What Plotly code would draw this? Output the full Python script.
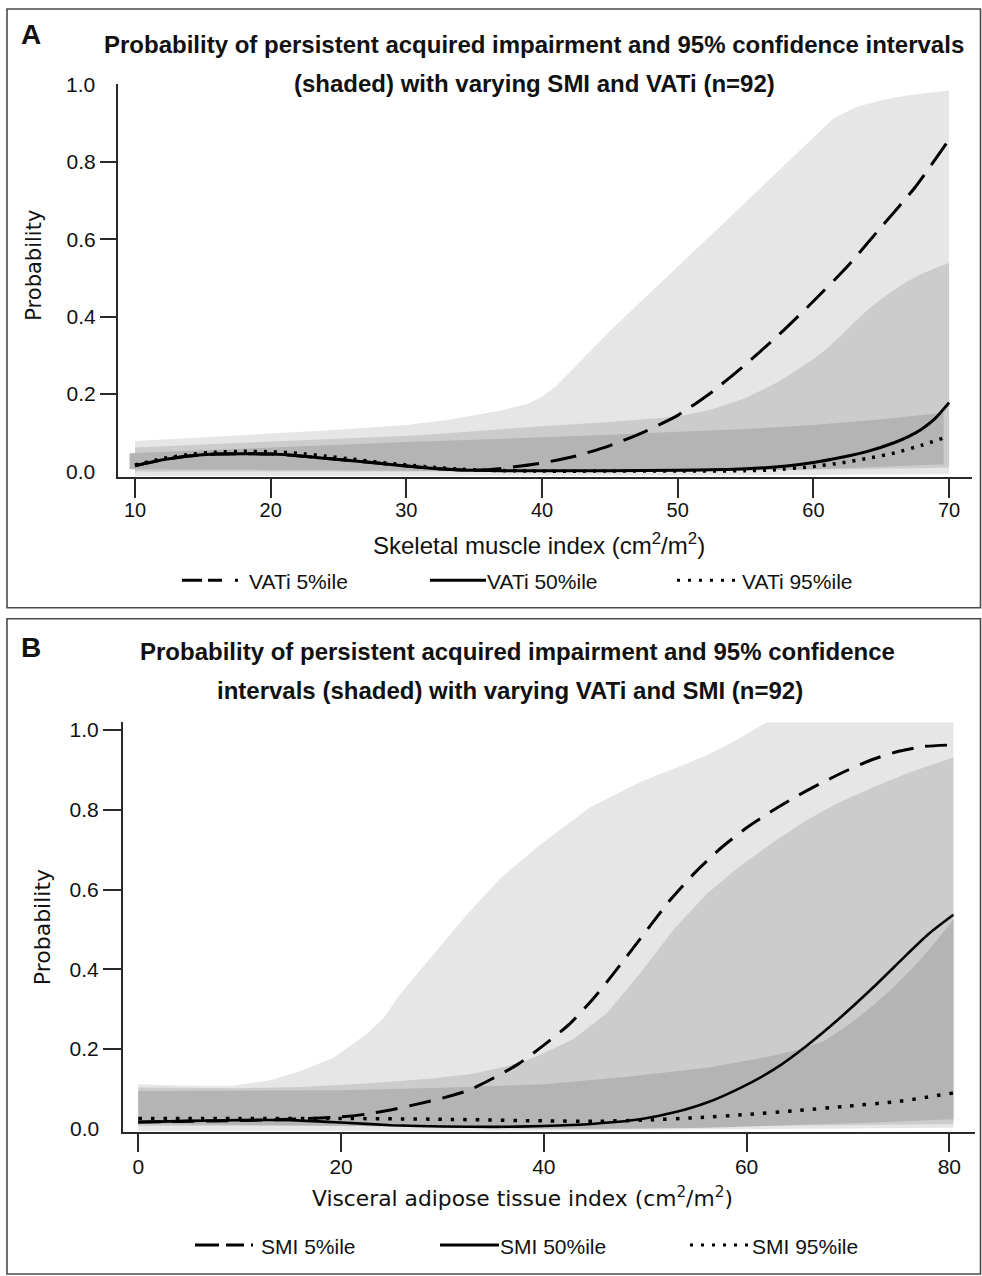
import plotly.graph_objects as go

# ---------------- Panel A data: varying SMI (x) for three VATi percentiles ----------------
A_TICKS = [10, 20, 30, 40, 50, 60, 70]

# VATi 5%ile (dashed)
A_X_VATI5 = [10, 12, 14, 16, 18, 20, 22, 24, 26, 28, 30, 32, 34, 35, 37, 40, 42.5, 45, 47.5, 50,
             52.5, 55, 57.5, 60, 62.5, 65, 67.5, 70]
A_P_VATI5 = [0.015, 0.03, 0.04, 0.045, 0.046, 0.045, 0.041, 0.034, 0.028, 0.021, 0.014, 0.008, 0.004,
             0.003, 0.008, 0.022, 0.04, 0.067, 0.102, 0.145, 0.205, 0.277, 0.355, 0.44, 0.53, 0.632,
             0.735, 0.858]
# VATi 50%ile (solid)
A_X_VATI50 = [10, 12, 14, 16, 18, 20, 22, 24, 26, 28, 30, 32, 34, 35, 37, 40, 45, 50, 55, 58, 60,
              62, 64, 66, 67, 68, 69, 70]
A_P_VATI50 = [0.015, 0.03, 0.04, 0.045, 0.046, 0.045, 0.041, 0.034, 0.028, 0.021, 0.014, 0.008, 0.004,
              0.003, 0.002, 0.002, 0.002, 0.003, 0.007, 0.014, 0.023, 0.036, 0.052, 0.075, 0.09, 0.11,
              0.138, 0.178]
# VATi 95%ile (dotted)
A_X_VATI95 = [10, 12, 14, 16, 18, 20, 22, 24, 26, 28, 30, 32, 34, 36, 40, 45, 50, 55, 57, 60, 62,
              64, 66, 68, 69.6]
A_P_VATI95 = [0.017, 0.033, 0.044, 0.05, 0.052, 0.051, 0.047, 0.04, 0.032, 0.024, 0.017, 0.011, 0.006,
              0.003, 0.001, 0.001, 0.001, 0.002, 0.004, 0.013, 0.022, 0.034, 0.048, 0.068, 0.087]

# 95% CI bands (panel A)
A_CI_X_VATI5 = [10, 15, 20, 25, 30, 33, 35, 37, 39, 40, 41, 42, 45, 50, 55, 60, 61.5, 63.2, 65,
                66.9, 70]
A_CI_HI_VATI5 = [0.079, 0.088, 0.098, 0.108, 0.12, 0.133, 0.145, 0.158, 0.176, 0.193, 0.22, 0.255,
                 0.363, 0.53, 0.697, 0.864, 0.913, 0.943, 0.96, 0.972, 0.985]
A_CI_LO_VATI5 = [-0.012, -0.012, -0.012, -0.012, -0.012, -0.012, -0.012, -0.012, -0.012, -0.012,
                 -0.012, -0.012, -0.011, -0.011, -0.01, -0.009, -0.009, -0.008, -0.008, -0.007, -0.007]

A_CI_X_VATI50 = [10, 15, 21, 26, 31, 35, 39.6, 45, 50, 52.5, 55, 57.5, 60, 61, 62, 63, 64, 65, 66,
                 67, 68, 69, 70]
A_CI_HI_VATI50 = [0.062, 0.07, 0.079, 0.087, 0.094, 0.104, 0.116, 0.128, 0.142, 0.16, 0.19, 0.233,
                  0.29, 0.318, 0.35, 0.385, 0.418, 0.446, 0.471, 0.493, 0.511, 0.526, 0.539]
A_CI_LO_VATI50 = [0.0, 0.0, 0.0, 0.0, 0.0, 0.0, 0.0, 0.0, 0.001, 0.002, 0.003, 0.004, 0.005, 0.005,
                  0.006, 0.006, 0.007, 0.007, 0.008, 0.008, 0.009, 0.009, 0.01]

A_CI_X_VATI95 = [9.6, 15, 20, 25, 30, 35, 40, 45, 50, 55, 60, 65, 69.6]
A_CI_HI_VATI95 = [0.047, 0.055, 0.062, 0.069, 0.076, 0.082, 0.088, 0.095, 0.103, 0.11, 0.12, 0.135,
                  0.152]
A_CI_LO_VATI95 = [0.006, 0.005, 0.004, 0.003, 0.002, 0.001, 0.0, 0.0, 0.0, 0.002, 0.006, 0.012, 0.019]

# ---------------- Panel B data: varying VATi (x) for three SMI percentiles ----------------
B_TICKS = [0, 20, 40, 60, 80]

B_X_SMI5 = [0, 5, 10, 15, 20, 22.5, 25, 27.5, 30, 32.5, 35, 37.5, 40, 42.5, 45, 47.5, 50, 52.5, 55,
            57.5, 60, 62.5, 65, 67.5, 70, 72.5, 75, 77.5, 80.4]
B_P_SMI5 = [0.017, 0.019, 0.021, 0.024, 0.03, 0.037, 0.048, 0.062, 0.077, 0.096, 0.127, 0.163, 0.21,
            0.262, 0.33, 0.41, 0.493, 0.575, 0.645, 0.705, 0.755, 0.797, 0.835, 0.869, 0.9, 0.927,
            0.947, 0.959, 0.963]

B_X_SMI50 = [0, 5, 10, 15, 20, 25, 30, 35, 40, 45, 49.5, 53, 56.1, 59.4, 62.7, 65.9, 69.2, 72.5,
             75.8, 78, 80.4]
B_P_SMI50 = [0.017, 0.02, 0.022, 0.022, 0.016, 0.009, 0.006, 0.005, 0.007, 0.013, 0.024, 0.042, 0.066,
             0.103, 0.149, 0.208, 0.278, 0.355, 0.437, 0.49, 0.537]

B_X_SMI95 = [0, 10, 20, 30, 40, 45, 50, 55, 60, 65, 70, 75, 80.4]
B_P_SMI95 = [0.026, 0.026, 0.026, 0.024, 0.02, 0.019, 0.022, 0.028, 0.036, 0.046, 0.057, 0.069, 0.09]

B_CI_X_SMI5 = [0, 5, 9.4, 13, 16, 19.2, 22.5, 24.2, 25.8, 29.1, 32.4, 35.7, 39.6, 44.5, 49.5, 53,
               56.1, 59, 62, 70, 80.4]
B_CI_HI_SMI5 = [0.112, 0.108, 0.108, 0.122, 0.145, 0.178, 0.237, 0.278, 0.337, 0.437, 0.537, 0.628,
                0.712, 0.805, 0.87, 0.905, 0.937, 0.975, 1.02, 1.02, 1.02]
B_CI_LO_SMI5 = [-0.005, -0.005, -0.005, -0.005, -0.005, -0.005, -0.005, -0.005, -0.005, -0.005,
                -0.005, -0.005, -0.005, -0.004, -0.003, -0.002, -0.001, 0.0, 0.001, 0.002, 0.003]

B_CI_X_SMI50 = [0, 10, 16, 22.5, 29, 33, 35.7, 38, 39.6, 42.9, 46.2, 49.5, 52.8, 56.1, 59.4, 62.7,
                65.9, 69.2, 72.5, 75.8, 80.4]
B_CI_HI_SMI50 = [0.104, 0.102, 0.105, 0.114, 0.126, 0.138, 0.153, 0.168, 0.185, 0.225, 0.29, 0.39,
                 0.5, 0.59, 0.66, 0.72, 0.774, 0.82, 0.857, 0.891, 0.932]
B_CI_LO_SMI50 = [0.008, 0.008, 0.008, 0.007, 0.006, 0.005, 0.005, 0.005, 0.005, 0.005, 0.005, 0.006,
                 0.006, 0.007, 0.008, 0.008, 0.009, 0.01, 0.01, 0.011, 0.012]

B_CI_X_SMI95 = [0, 10, 20, 30, 40, 48, 56.1, 62, 65, 67.6, 70, 72.5, 74.5, 76.8, 78.5, 80.4]
B_CI_HI_SMI95 = [0.095, 0.096, 0.097, 0.103, 0.112, 0.13, 0.153, 0.18, 0.198, 0.22, 0.26, 0.31,
                 0.355, 0.415, 0.465, 0.525]
B_CI_LO_SMI95 = [0.012, 0.01, 0.008, 0.004, 0.0, 0.0, 0.003, 0.008, 0.01, 0.012, 0.014, 0.016, 0.018,
                 0.02, 0.022, 0.024]

LEGEND_A = ["VATi 5%ile", "VATi 50%ile", "VATi 95%ile"]
LEGEND_B = ["SMI 5%ile", "SMI 50%ile", "SMI 95%ile"]

# ---------------- styling ----------------
W, H = 982, 1276
LIGHT, MEDIUM, DARK = "#e6e6e6", "#cccccc", "#b4b4b4"
AX = "#2a2a2a"
ARIAL = "Liberation Sans, Arial, sans-serif"
NARROW = "Liberation Sans Narrow, Arial Narrow, Liberation Sans, Arial, sans-serif"
VERD = "DejaVu Sans, Verdana, sans-serif"


def px(x):
    return x / W


def py(y):
    return 1 - y / H


fig = go.Figure()


def band(xs, lo, hi, color, xa, ya):
    fig.add_trace(go.Scatter(x=list(xs) + list(xs)[::-1], y=list(hi) + list(lo)[::-1],
                             fill="toself", fillcolor=color, mode="lines",
                             line=dict(width=0, color=color), hoverinfo="skip",
                             showlegend=False, xaxis=xa, yaxis=ya))


def curve(xs, ys, dash, width, xa, ya, name):
    fig.add_trace(go.Scatter(x=xs, y=ys, mode="lines", name=name,
                             line=dict(color="black", width=width, dash=dash,
                                       shape="spline", smoothing=0.6),
                             showlegend=False, xaxis=xa, yaxis=ya))


# Panel A
band(A_CI_X_VATI5, A_CI_LO_VATI5, A_CI_HI_VATI5, LIGHT, "x", "y")
band(A_CI_X_VATI50, A_CI_LO_VATI50, A_CI_HI_VATI50, MEDIUM, "x", "y")
band(A_CI_X_VATI95, A_CI_LO_VATI95, A_CI_HI_VATI95, DARK, "x", "y")
curve(A_X_VATI5, A_P_VATI5, "26px,12px", 3, "x", "y", LEGEND_A[0])
curve(A_X_VATI50, A_P_VATI50, "solid", 3, "x", "y", LEGEND_A[1])
curve(A_X_VATI95, A_P_VATI95, "3px,7px", 3.5, "x", "y", LEGEND_A[2])

# Panel B
band(B_CI_X_SMI5, B_CI_LO_SMI5, B_CI_HI_SMI5, LIGHT, "x2", "y2")
band(B_CI_X_SMI50, B_CI_LO_SMI50, B_CI_HI_SMI50, MEDIUM, "x2", "y2")
band(B_CI_X_SMI95, B_CI_LO_SMI95, B_CI_HI_SMI95, DARK, "x2", "y2")
curve(B_X_SMI5, B_P_SMI5, "22px,12px", 3, "x2", "y2", LEGEND_B[0])
curve(B_X_SMI50, B_P_SMI50, "solid", 2.6, "x2", "y2", LEGEND_B[1])
curve(B_X_SMI95, B_P_SMI95, "3.5px,9px", 3.5, "x2", "y2", LEGEND_B[2])

axis_common = dict(showline=True, linecolor=AX, linewidth=2, ticks="outside", tickwidth=2,
                   tickcolor=AX, showgrid=False, zeroline=False, fixedrange=True)

fig.update_layout(
    width=W, height=H, margin=dict(l=0, r=0, t=0, b=0),
    paper_bgcolor="white", plot_bgcolor="white", showlegend=False,
    xaxis=dict(domain=[px(118), px(972)], range=[8.747, 71.69], anchor="y",
               tickvals=A_TICKS, ticklen=19, ticklabelstandoff=-5,
               tickfont=dict(family=ARIAL, size=20, color="#111"), **axis_common),
    yaxis=dict(domain=[py(474), py(79.8)], range=[-0.013, 1.003], anchor="x",
               tickvals=[0.2, 0.4, 0.6, 0.8], ticktext=["0.2", "0.4", "0.6", "0.8"], ticklen=16,
               tickfont=dict(family=ARIAL, size=21, color="#111"), **axis_common),
    xaxis2=dict(domain=[px(123), px(975)], range=[-1.509, 82.53], anchor="y2",
                tickvals=B_TICKS, ticklen=18, ticklabelstandoff=-4,
                tickfont=dict(family=NARROW, size=21, color="#111"), **axis_common),
    yaxis2=dict(domain=[py(1132), py(720.4)], range=[-0.009, 1.02], anchor="x2",
                tickvals=[0.2, 0.4, 0.6, 0.8, 1.0], ticktext=["0.2", "0.4", "0.6", "0.8", "1.0"],
                ticklen=18, tickfont=dict(family=NARROW, size=21, color="#111"), **axis_common),
)

ann = []


def text(x, y, s, size, family=ARIAL, xanchor="center", angle=0, color="#111"):
    ann.append(dict(x=px(x), y=py(y), xref="paper", yref="paper", text=s, showarrow=False,
                    xanchor=xanchor, yanchor="middle", textangle=angle,
                    font=dict(family=family, size=size, color=color)))


# panel letters and titles
text(31, 31, "<b>A</b>", 28)
text(31, 646, "<b>B</b>", 28)
text(534, 41, "<b>Probability of persistent acquired impairment and 95% confidence intervals</b>", 24)
text(534, 80, "<b>(shaded) with varying SMI and VATi (n=92)</b>", 24)
text(517, 650, "<b>Probability of persistent acquired impairment and 95% confidence</b>", 24)
text(510, 689, "<b>intervals (shaded) with varying VATi and SMI (n=92)</b>", 24)

# axis titles
text(539, 542, "Skeletal muscle index (cm<sup>2</sup>/m<sup>2</sup>)", 24)
text(522, 1197, "Visceral adipose tissue index (cm<sup>2</sup>/m<sup>2</sup>)", 21.8, family=VERD)
text(34.5, 262, "Probability", 21, family=VERD, angle=-90)
text(42.6, 926.5, "Probability", 22, family=VERD, angle=-90)

# end labels of y axes (no tick marks there in the original)
ann.append(dict(x=px(97), y=0.0, xref="paper", yref="y", text="0.0", showarrow=False,
                xanchor="right", yanchor="middle", font=dict(family=ARIAL, size=21, color="#111")))
ann.append(dict(x=px(97), y=1.0, xref="paper", yref="y", text="1.0", showarrow=False,
                xanchor="right", yanchor="middle", font=dict(family=ARIAL, size=21, color="#111")))
ann.append(dict(x=px(101), y=0.0, xref="paper", yref="y2", text="0.0", showarrow=False,
                xanchor="right", yanchor="middle", font=dict(family=NARROW, size=21, color="#111")))

# legends (drawn manually to mimic original symbols)
shapes = []


def seg(x0, x1, y, dash, width=3):
    shapes.append(dict(type="line", xref="paper", yref="paper", x0=px(x0), x1=px(x1),
                       y0=py(y), y1=py(y), line=dict(color="black", width=width, dash=dash)))


# Panel A legend
seg(182, 238, 578, "20px,6px,14px,13px,3px,60px")
text(247, 579, LEGEND_A[0], 21, xanchor="left")
seg(430, 486, 578, "solid")
text(485, 579, LEGEND_A[1], 21, xanchor="left")
seg(677, 737, 578, "3px,8px", 3)
text(740, 579, LEGEND_A[2], 21, xanchor="left")

# Panel B legend
seg(195, 253, 1245, "24px,7px,18px,7px,2.5px,60px")
text(259, 1246, LEGEND_B[0], 21, xanchor="left")
seg(440, 499, 1245, "solid")
text(498, 1246, LEGEND_B[1], 21, xanchor="left")
seg(690, 748, 1245, "3px,8px", 3)
text(750, 1246, LEGEND_B[2], 21, xanchor="left")

# panel frames
for (t, b) in [(5, 605.7), (616.7, 1274)]:
    shapes.append(dict(type="rect", xref="paper", yref="paper", x0=px(7), x1=px(980.5),
                       y0=py(b), y1=py(t), line=dict(color="#4a4a4a", width=1.6),
                       fillcolor="rgba(0,0,0,0)", layer="above"))

fig.update_layout(annotations=ann, shapes=shapes)
fig.write_html("out.html", config={"displayModeBar": False, "staticPlot": True},
               post_script="document.body.style.margin='0px';document.body.style.padding='0px';"
                           "document.body.style.overflow='hidden';")
